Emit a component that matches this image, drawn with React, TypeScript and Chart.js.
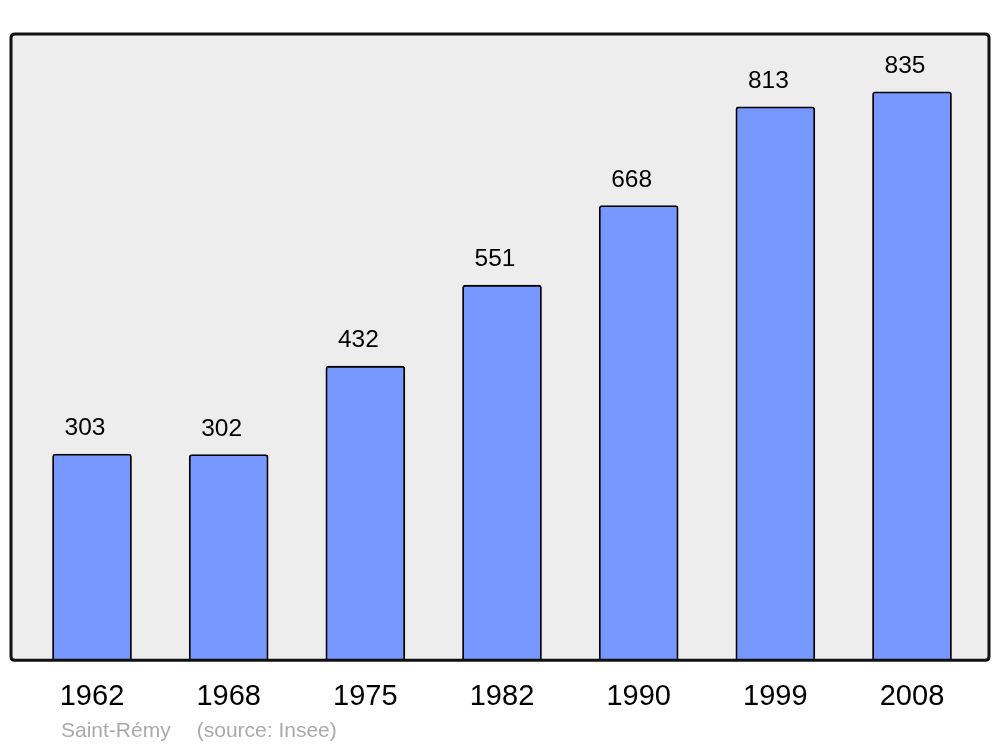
import React, { useEffect, useRef } from "react";
import { Chart, registerables } from "chart.js";

Chart.register(...registerables);

const years = ["1962", "1968", "1975", "1982", "1990", "1999", "2008"];
const population = [303, 302, 432, 551, 668, 813, 835];
const positions = [0, 1, 2, 3, 4, 5, 6];
const captionName = "Saint-Rémy";
const captionSource = "(source: Insee)";

const FONT = "'Liberation Sans', Arial, sans-serif";

function roundRect(ctx: CanvasRenderingContext2D, x: number, y: number, w: number, h: number, r: number) {
  ctx.beginPath();
  ctx.moveTo(x + r, y);
  ctx.lineTo(x + w - r, y);
  ctx.quadraticCurveTo(x + w, y, x + w, y + r);
  ctx.lineTo(x + w, y + h - r);
  ctx.quadraticCurveTo(x + w, y + h, x + w - r, y + h);
  ctx.lineTo(x + r, y + h);
  ctx.quadraticCurveTo(x, y + h, x, y + h - r);
  ctx.lineTo(x, y + r);
  ctx.quadraticCurveTo(x, y, x + r, y);
  ctx.closePath();
}

const framePlugin = {
  id: "frame",
  beforeDatasetsDraw(chart: any) {
    const { ctx, chartArea: a } = chart;
    ctx.save();
    roundRect(ctx, a.left, a.top, a.right - a.left, a.bottom - a.top, 4);
    ctx.fillStyle = "#ededed";
    ctx.fill();
    ctx.restore();
  },
  afterDatasetsDraw(chart: any) {
    const { ctx, chartArea: a } = chart;
    ctx.save();
    roundRect(ctx, a.left, a.top, a.right - a.left, a.bottom - a.top, 4);
    ctx.lineWidth = 3;
    ctx.strokeStyle = "#111111";
    ctx.stroke();
    // value labels
    const meta = chart.getDatasetMeta(0);
    ctx.fillStyle = "#000";
    ctx.font = `24.5px ${FONT}`;
    ctx.textAlign = "center";
    ctx.textBaseline = "alphabetic";
    meta.data.forEach((bar: any, i: number) => {
      ctx.fillText(String(population[i]), bar.x - 7, bar.y - 19);
    });
    ctx.restore();
  },
};

export default function App() {
  const ref = useRef<HTMLCanvasElement>(null);
  useEffect(() => {
    if (!ref.current) return;
    const chart = new Chart(ref.current, {
      type: "bar",
      data: {
        datasets: [
          {
            data: positions.map((p, i) => ({ x: p, y: population[i] })),
            backgroundColor: "#7799ff",
            borderColor: "#000",
            borderWidth: 1.8,
            borderRadius: 3,
            barThickness: 79,
          },
        ],
      },
      options: {
        animation: false,
        responsive: false,
        maintainAspectRatio: false,
        layout: { padding: { left: 11, right: 11, top: 34, bottom: 14 } },
        plugins: { legend: { display: false }, tooltip: { enabled: false } },
        scales: {
          x: {
            type: "linear",
            offset: false,
            min: -0.5927,
            max: 6.5634,
            grid: { display: false, drawTicks: false },
            border: { display: false },
            afterBuildTicks: (scale: any) => {
              scale.ticks = positions.map((p) => ({ value: p }));
            },
            ticks: {
              padding: 19,
              color: "#000",
              font: { size: 29, family: FONT },
              autoSkip: false,
              maxRotation: 0,
              callback: (v: any) => years[Math.round(Number(v))] ?? "",
            },
          },
          y: {
            display: false,
            min: 0,
            max: 920,
          },
        },
      },
      plugins: [framePlugin],
    });
    return () => chart.destroy();
  }, []);
  return (
    <div style={{ position: "absolute", left: 0, top: 0, width: 1000, height: 747, background: "#fff" }}>
      <canvas ref={ref} width={1000} height={747} style={{ display: "block" }} />
      <div
        style={{
          position: "absolute",
          left: 61,
          top: 720,
          fontFamily: FONT,
          fontSize: 21,
          lineHeight: "20px",
          color: "#aaaaaa",
          whiteSpace: "pre",
        }}
      >
        <span>{captionName}</span>
        <span style={{ marginLeft: 26 }}>{captionSource}</span>
      </div>
    </div>
  );
}
